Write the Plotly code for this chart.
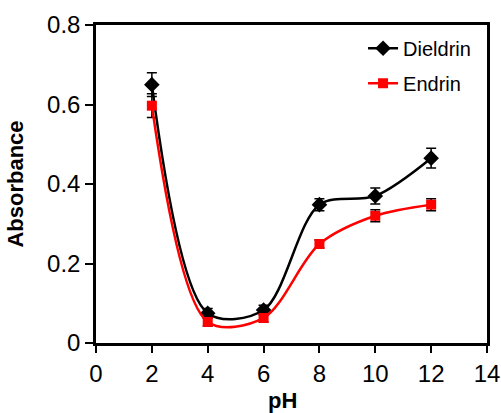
import plotly.graph_objects as go

ph = [2, 4, 6, 8, 10, 12]
dieldrin = [0.65, 0.075, 0.083, 0.348, 0.370, 0.465]
dieldrin_err = [0.03, 0.012, 0.012, 0.015, 0.02, 0.025]
endrin = [0.597, 0.053, 0.063, 0.249, 0.320, 0.348]
endrin_err = [0.03, 0.01, 0.01, 0.01, 0.015, 0.015]

FONT = "Liberation Sans, Arial, sans-serif"

fig = go.Figure()
fig.add_trace(go.Scatter(
    x=ph, y=dieldrin, name="Dieldrin", mode="lines+markers",
    line=dict(color="black", width=2.5, shape="spline", smoothing=0.9),
    marker=dict(symbol="diamond", size=12, color="black"),
    error_y=dict(type="data", array=dieldrin_err, color="black", thickness=1.5, width=5),
    legendgroup="a",
))
fig.add_trace(go.Scatter(
    x=ph, y=endrin, name="Endrin", mode="lines+markers",
    line=dict(color="#ff0000", width=2.5, shape="spline", smoothing=0.9),
    marker=dict(symbol="square", size=10, color="#ff0000"),
    error_y=dict(type="data", array=endrin_err, color="black", thickness=1.5, width=5),
    legendgroup="b",
))

fig.update_layout(
    width=501, height=413,
    margin=dict(l=96, r=14, t=25, b=70),
    paper_bgcolor="white", plot_bgcolor="white",
    font=dict(family=FONT, color="black", size=22),
    showlegend=True,
    legend=dict(x=0.683, y=0.988, xanchor="left", yanchor="top",
                font=dict(size=20, family=FONT), bgcolor="rgba(0,0,0,0)",
                traceorder="grouped", tracegroupgap=6),
    xaxis=dict(range=[0, 14], tickvals=[0, 2, 4, 6, 8, 10, 12, 14],
               showline=True, linecolor="black", linewidth=2.5, mirror=True,
               ticks="outside", ticklen=7, tickwidth=2, tickcolor="black",
               showgrid=False, zeroline=False, tickfont=dict(size=24),
               automargin=False),
    yaxis=dict(range=[0, 0.8], tickvals=[0, 0.2, 0.4, 0.6, 0.8],
               ticktext=["0", "0.2", "0.4", "0.6", "0.8"],
               showline=True, linecolor="black", linewidth=2.5, mirror=True,
               ticks="outside", ticklen=8, tickwidth=2, tickcolor="black",
               showgrid=False, zeroline=False, tickfont=dict(size=24),
               automargin=False,
               title=dict(text="<b>Absorbance</b>", font=dict(size=22), standoff=18)),
)
fig.add_annotation(text="<b>pH</b>", xref="paper", yref="paper",
                   x=0.476, y=0, yshift=-57, showarrow=False,
                   xanchor="center", yanchor="middle", font=dict(size=22))

fig.write_html(
    "out.html",
    config={"displayModeBar": False},
    post_script="document.body.style.margin='0';document.body.style.overflow='hidden';",
)
